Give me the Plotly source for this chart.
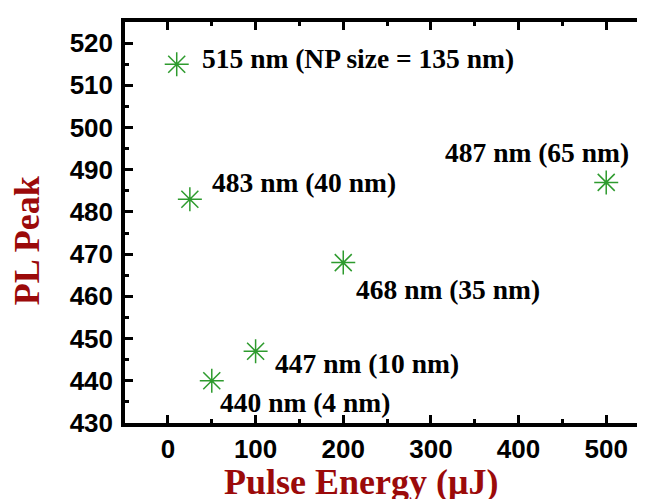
import plotly.graph_objects as go

# ---- data ----
pulse_energy = [10, 25, 50, 100, 200, 500]          # µJ
pl_peak = [515, 483, 440, 447, 468, 487]            # nm
labels = ["515 nm (NP size = 135 nm)", "483 nm (40 nm)", "440 nm (4 nm)",
          "447 nm (10 nm)", "468 nm (35 nm)", "487 nm (65 nm)"]
x_ticks = [0, 100, 200, 300, 400, 500]
y_ticks = [430, 440, 450, 460, 470, 480, 490, 500, 510, 520]

# label placement (pixel offsets from each point)
label_xshift = [23, 20, 6, 17, 11, 25]
label_yshift = [6, 17, -22, -12, -27, 30]
label_anchor = ["left", "left", "left", "left", "left", "right"]

GREEN = "#2e9b2e"
DARKRED = "#9b0a0a"
SERIF = "Liberation Serif"
SANS = "Liberation Sans"

fig = go.Figure()
fig.add_trace(go.Scatter(
    x=pulse_energy, y=pl_peak, mode="markers",
    marker=dict(symbol="asterisk-open", size=20, color=GREEN,
                line=dict(color=GREEN, width=1.5)),
    showlegend=False, hoverinfo="skip"))
# invisible trace to carry the right-hand tick axis
fig.add_trace(go.Scatter(x=[pulse_energy[0]], y=[pl_peak[0]], yaxis="y2",
                         mode="markers", marker=dict(opacity=0),
                         showlegend=False, hoverinfo="skip"))

for x, y, t, dx, dy, anc in zip(pulse_energy, pl_peak, labels,
                                label_xshift, label_yshift, label_anchor):
    fig.add_annotation(x=x, y=y, text="<b>%s</b>" % t, showarrow=False,
                       xanchor=anc, yanchor="middle", xshift=dx, yshift=dy,
                       font=dict(family=SERIF, size=27.5, color="black"))

tickfont = dict(family=SANS, size=26, color="black", weight="bold")

fig.update_layout(
    width=645, height=499,
    margin=dict(l=117, r=12, t=10, b=84),
    paper_bgcolor="white", plot_bgcolor="white",
    xaxis=dict(range=[-49, 537.4], tickvals=x_ticks, ticks="inside",
               ticklen=8, tickwidth=3, tickcolor="black",
               minor=dict(dtick=50, tick0=0, ticks="inside", ticklen=4,
                          tickwidth=3, tickcolor="black"),
               showline=True, linewidth=3.5, linecolor="black",
               mirror="ticks", showgrid=False, zeroline=False,
               tickfont=tickfont),
    yaxis=dict(range=[430, 525], tickvals=y_ticks, ticks="inside",
               ticklen=8, tickwidth=3, tickcolor="black",
               minor=dict(dtick=5, tick0=430, ticks="inside", ticklen=4,
                          tickwidth=3, tickcolor="black"),
               showline=True, linewidth=3.5, linecolor="black",
               mirror=False, showgrid=False, zeroline=False,
               ticklabelstandoff=3, tickfont=tickfont),
    yaxis2=dict(overlaying="y", side="right", matches="y",
                tickvals=y_ticks[1:], ticks="outside", ticklen=4,
                tickwidth=3, tickcolor="black", showticklabels=False,
                showline=False, showgrid=False, zeroline=False),
)

fig.add_annotation(xref="paper", yref="paper", x=(362 - 125) / 516, y=-(483 - 423) / 405,
                   text="<b>Pulse Energy (μJ)</b>", showarrow=False,
                   xanchor="center", yanchor="middle",
                   font=dict(family=SERIF, size=36, color=DARKRED))
fig.add_annotation(xref="paper", yref="paper", x=-(125 - 26) / 516, y=(423 - 239) / 405,
                   text="<b>PL Peak</b>", showarrow=False, textangle=-90,
                   xanchor="center", yanchor="middle",
                   font=dict(family=SERIF, size=36, color=DARKRED))

fig.write_html("out.html")
